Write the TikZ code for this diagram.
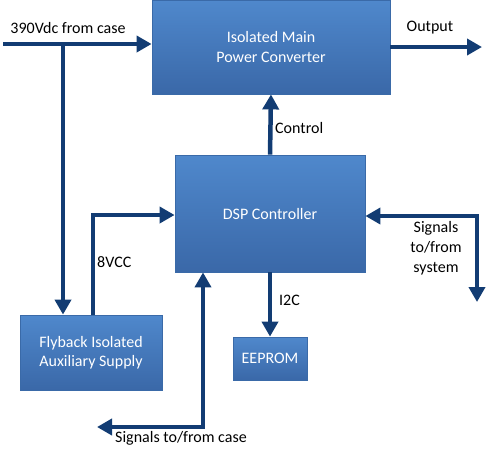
\documentclass[tikz,border=0pt]{standalone}
\usepackage{fontspec}
\setmainfont{Carlito}
\usetikzlibrary{arrows.meta,calc}
\definecolor{arrowc}{HTML}{123C73}
\definecolor{boxtop}{HTML}{4F88CC}
\definecolor{boxbot}{HTML}{3A68A8}
\definecolor{boxedge}{HTML}{3A6AA8}
\begin{document}
\begin{tikzpicture}[x=1pt,y=-1pt,
  block/.style={rectangle,draw=boxedge,line width=0.8pt,top color=boxtop,bottom color=boxbot,
    text=white,align=center,inner sep=0pt,font=\fontsize{16}{19.5}\selectfont},
  conn/.style={draw=arrowc,line width=4.5pt,-{Triangle[length=15pt,width=16pt]}},
  bconn/.style={draw=arrowc,line width=4.5pt,{Triangle[length=15pt,width=16pt]}-{Triangle[length=15pt,width=16pt]}},
  lbl/.style={text=black,align=center,inner sep=0pt,font=\fontsize{16}{20}\selectfont}]
\useasboundingbox (0,0) rectangle (500,459);
\node[block,minimum width=238pt,minimum height=94pt] (main) at (271,47) {Isolated Main\\Power Converter};
\node[block,minimum width=190pt,minimum height=117pt] (dsp) at (270,213.5) {DSP Controller};
\node[block,minimum width=142pt,minimum height=75pt] (fly) at (91,352.5) {Flyback Isolated\\Auxiliary Supply};
\node[block,minimum width=74pt,minimum height=43pt] (eep) at (270,358.5) {EEPROM};
\coordinate (in) at (3,44);
\coordinate (junc) at (63,44);
\coordinate (out) at (482,47);
\coordinate (sysend) at (477,302);
\coordinate (caseend) at (97,427);
\draw[conn] (in) -- (main.west |- in);
\draw[conn] (junc) -- (fly.north -| junc);
\draw[conn] (main.east |- out) -- (out);
\draw[conn] (dsp.north) -- (main.south);
\draw[conn] ([xshift=2pt]fly.north) |- ([yshift=-1.5pt]dsp.west);
\draw[bconn] ([yshift=-2.5pt]dsp.east) -| (sysend);
\draw[bconn] (caseend) -| ([xshift=-67pt]dsp.south);
\draw[conn] (dsp.south) -- (eep.north);
\node[lbl] (l390) at (68,28) {390Vdc from case};
\node[lbl] (lout) at (430,28) {Output};
\node[lbl,anchor=west] (lctl) at (275,128) {Control};
\node[lbl,anchor=west] (l8v) at (97,262) {8VCC};
\node[lbl,anchor=west] (li2c) at (279,300) {I2C};
\node[lbl] (lsys) at (436,248) {Signals\\to/from\\system};
\node[lbl] (lcase) at (181,438) {Signals to/from case};
\end{tikzpicture}
\end{document}
